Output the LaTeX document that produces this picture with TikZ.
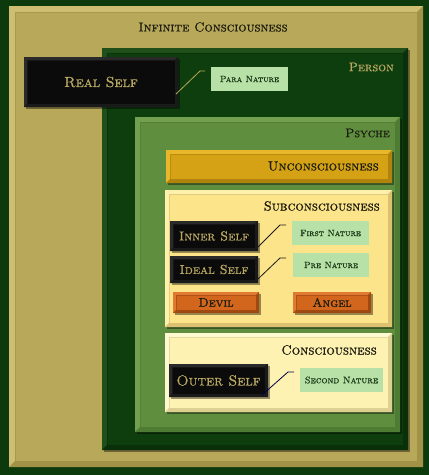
\documentclass[tikz,border=0pt]{standalone}
\usepackage{fontspec}
\setmainfont{lmroman10-regular.otf}[SmallCapsFont=lmromancaps10-regular.otf, SmallCapsFeatures={FakeBold=0.8}]
\usetikzlibrary{calc,shadows}
\definecolor{bgc}{HTML}{0D3A0D}
\definecolor{khaki}{HTML}{B8A85A}
\definecolor{khakiL}{HTML}{CDBE72}
\definecolor{khakiD}{HTML}{A29248}
\definecolor{pers}{HTML}{0F3E0E}
\definecolor{persL}{HTML}{1F5019}
\definecolor{persD}{HTML}{0A300A}
\definecolor{psy}{HTML}{5E8E3E}
\definecolor{psyL}{HTML}{72A04E}
\definecolor{psyD}{HTML}{4E7C32}
\definecolor{gold}{HTML}{D4A214}
\definecolor{goldL}{HTML}{E8B82A}
\definecolor{goldD}{HTML}{B0840C}
\definecolor{subc}{HTML}{FCE48A}
\definecolor{subcL}{HTML}{FFF0AE}
\definecolor{subcD}{HTML}{DCC270}
\definecolor{conc}{HTML}{FEF2B2}
\definecolor{concL}{HTML}{FFF9D2}
\definecolor{concD}{HTML}{DDD090}
\definecolor{blk}{HTML}{0B0B0B}
\definecolor{blkL}{HTML}{2A2A2A}
\definecolor{blkD}{HTML}{1A1A1A}
\definecolor{org}{HTML}{D2661C}
\definecolor{orgL}{HTML}{E07A30}
\definecolor{orgD}{HTML}{A04A12}
\definecolor{nat}{HTML}{B7E1A6}
\definecolor{txtd}{HTML}{1C1C10}
\definecolor{txtk}{HTML}{B8A862}
\definecolor{natt}{HTML}{1E3A1A}
\def\ppbb{path picture bounding box}
\tikzset{
  bevel/.style n args={3}{path picture={
    \fill[#1] (\ppbb.north west) -- (\ppbb.north east) -- ([shift={(-#3,-#3)}]\ppbb.north east)
      -- ([shift={(#3,-#3)}]\ppbb.north west) -- ([shift={(#3,#3)}]\ppbb.south west) -- (\ppbb.south west) -- cycle;
    \fill[#2] (\ppbb.south east) -- (\ppbb.north east) -- ([shift={(-#3,-#3)}]\ppbb.north east)
      -- ([shift={(-#3,#3)}]\ppbb.south east) -- ([shift={(#3,#3)}]\ppbb.south west) -- (\ppbb.south west) -- cycle;
    \draw[#2, line width=0.4pt, opacity=0.7] ([shift={(#3,-#3)}]\ppbb.north west) rectangle ([shift={(-#3,#3)}]\ppbb.south east);
  }},
  shad/.style={drop shadow={shadow xshift=2pt, shadow yshift=-2pt, opacity=0.4, fill=black}},
  box/.style={anchor=north west, inner sep=0pt, outer sep=0pt, draw=none, font=\scshape},
  frameA/.style={box, fill=khaki, bevel={khakiL}{khakiD}{6pt}},
  frameB/.style={box, shad, fill=pers, bevel={persL}{persD}{5pt}},
  frameC/.style={box, shad, fill=psy, bevel={psyL}{psyD}{5pt}},
  goldbox/.style={box, shad, fill=gold, bevel={goldL}{goldD}{4pt}},
  subbox/.style={box, shad, fill=subc, bevel={subcL}{subcD}{4pt}},
  conbox/.style={box, shad, fill=conc, bevel={concL}{concD}{4pt}},
  blkbox/.style={box, shad, fill=blk, bevel={blkL}{blkD}{3pt}, text=txtk},
  orgbox/.style={box, shad, fill=org, bevel={orgL}{orgD}{3pt}, text=txtd},
  natbox/.style={box, fill=nat, text=natt},
  title/.style={inner sep=0pt, font=\scshape, text=txtd},
  conn/.style={line width=0.8pt},
}
\begin{document}
\begin{tikzpicture}[x=1pt,y=-1pt]
\fill[bgc] (0,0) rectangle (429,475);
\useasboundingbox (0,0) rectangle (429,475);

\node[frameA, minimum width=414pt, minimum height=461pt] (inf) at (9,6) {};
\node[title, font=\fontsize{13}{15}\selectfont\scshape] (inftx) at (213,27) {Infinite Consciousness};

\node[frameB, minimum width=306pt, minimum height=402pt] (person) at (102,48) {};
\node[title, anchor=east, text=txtk, font=\fontsize{12.5}{15}\selectfont\scshape] (persont) at (394,67) {Person};

\node[frameC, minimum width=265pt, minimum height=315pt] (psyche) at (135,117) {};
\node[title, anchor=east, font=\fontsize{12.5}{15}\selectfont\scshape] (psychet) at (390,133) {Psyche};

\node[goldbox, minimum width=226pt, minimum height=33pt] (uncon) at (166,150) {};
\node[title, anchor=east, font=\fontsize{13.2}{15}\selectfont\scshape] (uncont) at (379,166) {Unconsciousness};

\node[subbox, minimum width=227pt, minimum height=137pt] (subcon) at (165,190) {};
\node[title, anchor=east, font=\fontsize{13.2}{15}\selectfont\scshape] (subcont) at (380,206) {Subconsciousness};

\node[conbox, minimum width=227pt, minimum height=79pt] (con) at (165,333) {};
\node[title, anchor=east, font=\fontsize{13.3}{15}\selectfont\scshape] (cont) at (377,350) {Consciousness};

\node[blkbox, minimum width=154pt, minimum height=50pt, font=\fontsize{14.5}{16}\selectfont\scshape] (real) at (24,57) {Real Self};
\node[natbox, minimum width=77pt, minimum height=24pt, font=\fontsize{9}{11}\selectfont\scshape] (para) at (211,67) {Para Nature};

\node[blkbox, minimum width=88pt, minimum height=30pt, font=\fontsize{13}{15}\selectfont\scshape] (inner) at (170,221) {Inner Self};
\node[blkbox, minimum width=88pt, minimum height=27pt, font=\fontsize{13}{15}\selectfont\scshape] (ideal) at (170,256) {Ideal Self};
\node[natbox, minimum width=77pt, minimum height=24pt, font=\fontsize{9}{11}\selectfont\scshape] (first) at (292,221) {First Nature};
\node[natbox, minimum width=76pt, minimum height=24pt, font=\fontsize{9}{11}\selectfont\scshape] (pre) at (293,253) {Pre Nature};
\node[orgbox, minimum width=86pt, minimum height=21pt, font=\fontsize{12.5}{14}\selectfont\scshape] (devil) at (173,292) {Devil};
\node[orgbox, minimum width=78pt, minimum height=21pt, font=\fontsize{12.5}{14}\selectfont\scshape] (angel) at (293,292) {Angel};

\node[blkbox, minimum width=99pt, minimum height=33pt, font=\fontsize{14.5}{16}\selectfont\scshape] (outer) at (169,364) {Outer Self};
\node[natbox, minimum width=83pt, minimum height=24pt, font=\fontsize{9.5}{11}\selectfont\scshape] (second) at (300,368) {Second Nature};

\draw[conn, khaki] ([xshift=-2pt,yshift=13pt]real.south east) -- ([xshift=-11pt,yshift=8pt]para.west) -- ([xshift=-6pt,yshift=8pt]para.west);
\draw[conn, blkD] ([yshift=4pt]inner.south east) -- ([xshift=-12pt,yshift=8pt]first.west) -- ([xshift=-6pt,yshift=8pt]first.west);
\draw[conn, blkD] ([yshift=4pt]ideal.south east) -- ([xshift=-13pt,yshift=7pt]pre.west) -- ([xshift=-7pt,yshift=7pt]pre.west);
\draw[conn, blue!30!black] ([xshift=-6pt,yshift=2pt]outer.south east) -- ([xshift=-12pt,yshift=8pt]second.west) -- ([xshift=-6pt,yshift=8pt]second.west);
\end{tikzpicture}
\end{document}
